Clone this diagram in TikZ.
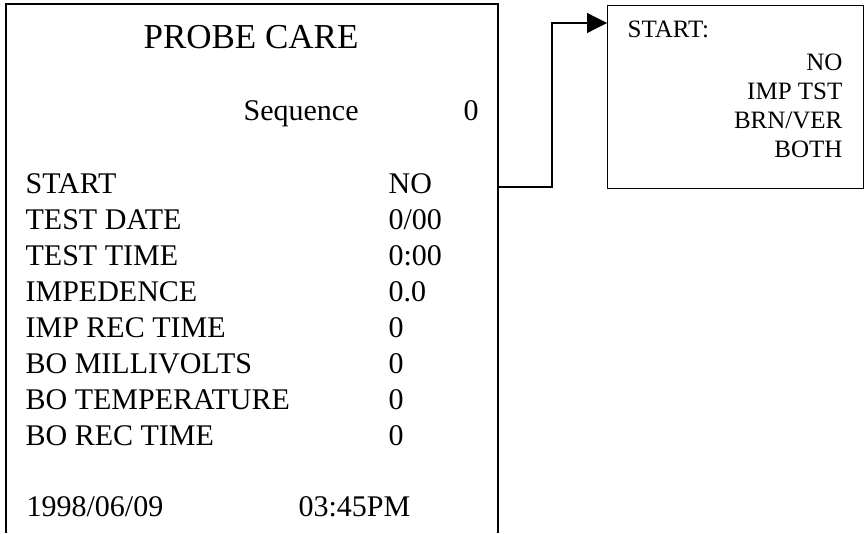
\documentclass[tikz,border=0pt]{standalone}
\usepackage{fontspec}
\setmainfont{Liberation Serif}
\usetikzlibrary{arrows.meta}
\begin{document}
\begin{tikzpicture}[x=0.4pt, y=-0.4pt, line width=0.5pt, >={Triangle[length=8pt,width=8pt]},
	lbl/.style={anchor=base west, inner sep=0pt, font=\fontsize{12}{14}\selectfont},
	opt/.style={anchor=base east, inner sep=0pt, font=\fontsize{10}{12}\selectfont}]
	\useasboundingbox (0,0) rectangle (865,533);
	% screen, open at the bottom
	\draw (6,533) -- (6,4) -- (498,4) -- (498,533);
	\node[anchor=base, inner sep=0pt, font=\fontsize{14}{17}\selectfont] (title) at (251,48) {PROBE CARE};
	\node[lbl] (seq) at (243,120) {Sequence};
	\node[lbl] (seqval) at (463,120) {0};
	\foreach \name/\val [count=\i] in {START/NO, TEST DATE/0\slash 00, TEST TIME/0:00, IMPEDENCE/0.0,
		IMP REC TIME/0, BO MILLIVOLTS/0, BO TEMPERATURE/0, BO REC TIME/0}{
		\node[lbl] (row\i) at (25,157+36*\i) {\name};
		\node[lbl] (val\i) at (388,157+36*\i) {\val};
	}
	\node[lbl] (date) at (26,516) {1998/06/09};
	\node[lbl] (time) at (298,516) {03:45PM};
	% choices for START
	\node[draw, anchor=north west, minimum width=102.4pt, minimum height=73.2pt, inner sep=0pt] (sel) at (607,5) {};
	\node[anchor=base west, inner sep=0pt, font=\fontsize{10}{12}\selectfont] (selhead) at (627,37) {START:};
	\node[opt] (opt1) at (843,70) {NO};
	\node[opt] (opt2) at (843,99) {IMP TST};
	\node[opt] (opt3) at (843,128) {BRN/VER};
	\node[opt] (opt4) at (843,157) {BOTH};
	\coordinate (mainR) at (498,187);
	\coordinate (selin) at (607,23);
	\draw[->] (mainR) -- (552,187) |- (selin);
\end{tikzpicture}
\end{document}
